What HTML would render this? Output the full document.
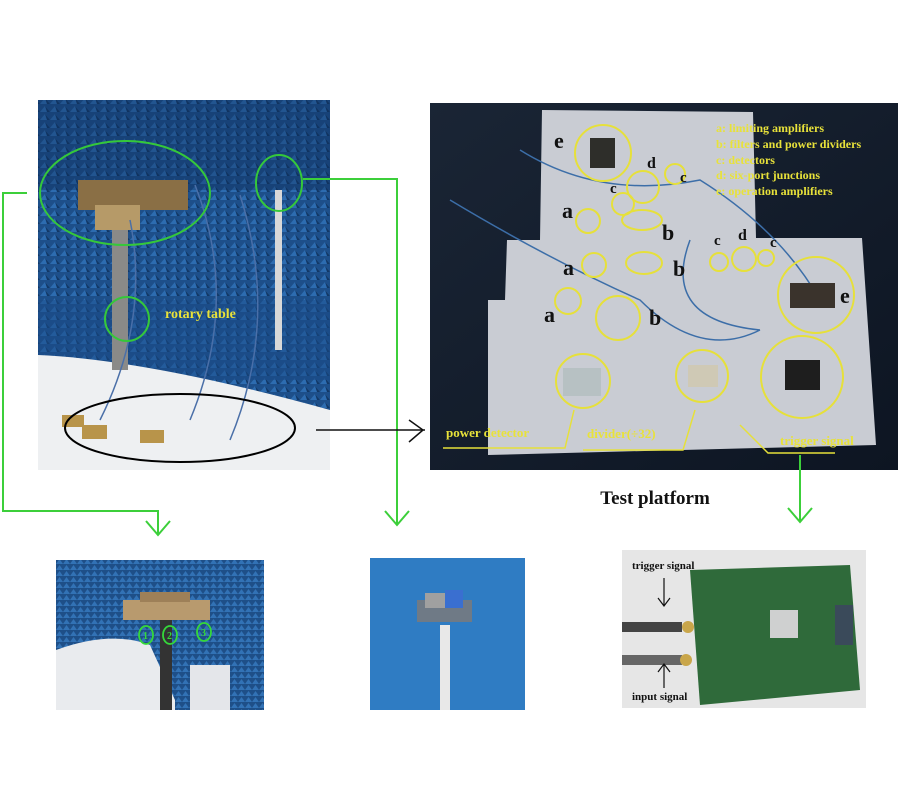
<!DOCTYPE html>
<html><head><meta charset="utf-8"><style>
html,body{margin:0;padding:0;background:#fff;}
svg{display:block;}
text{font-family:"Liberation Serif",serif;font-weight:bold;}
</style></head><body>
<svg width="900" height="800" viewBox="0 0 900 800" xmlns="http://www.w3.org/2000/svg">
<defs>
<pattern id="pyr" width="10" height="8" patternUnits="userSpaceOnUse">
<rect width="10" height="8" fill="#1d4f8a"/>
<path d="M0 8 L5 2 L10 8 Z" fill="#2d6cb0"/>
<path d="M5 2 L10 8 L7 8 Z" fill="#123866"/>
</pattern>
<pattern id="pyr2" width="7" height="6" patternUnits="userSpaceOnUse">
<rect width="7" height="6" fill="#1e4f88"/>
<path d="M0 6 L3.5 1 L7 6 Z" fill="#3272b5"/>
</pattern>
<linearGradient id="dark" x1="0" y1="0" x2="1" y2="1">
<stop offset="0" stop-color="#1a2535"/><stop offset="1" stop-color="#0d1522"/>
</linearGradient>
</defs>

<!-- Left main photo -->
<rect x="38" y="100" width="292" height="370" fill="url(#pyr)"/>
<rect x="38" y="100" width="292" height="90" fill="#0f2c55" opacity="0.35"/>
<rect x="38" y="300" width="292" height="80" fill="#1a4a86" opacity="0.5"/>
<path d="M38 355 Q150 360 330 410 L330 470 L38 470 Z" fill="#eef0f2"/>
<rect x="112" y="230" width="16" height="140" fill="#8a8a88"/>
<rect x="275" y="190" width="7" height="160" fill="#d8d8d8"/>
<rect x="78" y="180" width="110" height="30" fill="#8a6f45"/>
<rect x="95" y="205" width="45" height="25" fill="#b69a68"/>
<rect x="78" y="580" width="0" height="0"/>
<path d="M130 220 Q150 320 100 420 M195 185 Q240 300 190 420 M240 195 Q280 320 230 440" stroke="#4a6fa8" stroke-width="1.5" fill="none"/>
<rect x="62" y="415" width="22" height="12" fill="#b8944a"/>
<rect x="82" y="425" width="25" height="14" fill="#b8944a"/>
<rect x="140" y="430" width="24" height="13" fill="#b8944a"/>
<ellipse cx="125" cy="193" rx="85" ry="52" fill="none" stroke="#35c83a" stroke-width="2"/>
<ellipse cx="279" cy="183" rx="23" ry="28" fill="none" stroke="#35c83a" stroke-width="2"/>
<circle cx="127" cy="319" r="22" fill="none" stroke="#35c83a" stroke-width="2"/>
<text x="165" y="318" font-size="14" fill="#e8e23a">rotary table</text>
<ellipse cx="180" cy="428" rx="115" ry="34" fill="none" stroke="#000" stroke-width="2"/>

<!-- Right main photo -->
<rect x="430" y="103" width="468" height="367" fill="url(#dark)"/>
<path d="M542 110 L753 112 L756 238 L862 238 L876 445 L488 455 L488 300 L505 300 L507 240 L540 240 Z" fill="#c9ccd3"/>
<path d="M520 150 Q600 200 700 180 Q780 230 820 300 M450 200 Q550 260 640 300 Q700 360 760 330 M690 240 Q660 320 760 330" stroke="#3c6ea8" stroke-width="1.5" fill="none"/>
<g fill="none" stroke="#e6e03a" stroke-width="2">
<circle cx="603" cy="153" r="28"/>
<circle cx="643" cy="187" r="16"/>
<circle cx="675" cy="174" r="10"/>
<circle cx="623" cy="204" r="11"/>
<circle cx="588" cy="221" r="12"/>
<ellipse cx="642" cy="220" rx="20" ry="10"/>
<circle cx="594" cy="265" r="12"/>
<ellipse cx="644" cy="263" rx="18" ry="11"/>
<circle cx="719" cy="262" r="9"/>
<circle cx="744" cy="259" r="12"/>
<circle cx="766" cy="258" r="8"/>
<circle cx="816" cy="295" r="38"/>
<circle cx="568" cy="301" r="13"/>
<circle cx="618" cy="318" r="22"/>
<circle cx="583" cy="381" r="27"/>
<circle cx="702" cy="376" r="26"/>
<circle cx="802" cy="377" r="41"/>
</g>
<rect x="590" y="138" width="25" height="30" fill="#2e2e2a"/>
<rect x="790" y="283" width="45" height="25" fill="#3a332c"/>
<rect x="785" y="360" width="35" height="30" fill="#1e1e1e"/>
<rect x="563" y="368" width="38" height="28" fill="#b7c1c3"/>
<rect x="688" y="365" width="30" height="22" fill="#cfc9b5"/>
<g fill="#111" font-size="22">
<text x="554" y="148">e</text><text x="562" y="218">a</text><text x="563" y="275">a</text><text x="544" y="322">a</text>
<text x="662" y="240">b</text><text x="673" y="276">b</text><text x="649" y="325">b</text><text x="840" y="303">e</text>
<text x="647" y="168" font-size="16">d</text><text x="738" y="240" font-size="16">d</text>
<text x="610" y="193" font-size="15">c</text><text x="680" y="182" font-size="15">c</text>
<text x="714" y="245" font-size="15">c</text><text x="770" y="247" font-size="15">c</text>
</g>
<g fill="#e8e23a" font-size="12">
<text x="716" y="132">a: limiting amplifiers</text>
<text x="716" y="148">b: filters and power dividers</text>
<text x="716" y="164">c: detectors</text>
<text x="716" y="179">d: six-port junctions</text>
<text x="716" y="195">e: operation amplifiers</text>
<text x="446" y="437" font-size="13">power detector</text>
<text x="587" y="438" font-size="13">divider(÷32)</text>
<text x="780" y="445" font-size="13">trigger signal</text>
</g>
<g fill="none" stroke="#e6e03a" stroke-width="1.5">
<path d="M443 448 L565 448 L574 410"/>
<path d="M583 450 L683 450 L695 410"/>
<path d="M835 453 L768 453 L740 425"/>
</g>
<text x="655" y="504" font-size="19" fill="#111" text-anchor="middle">Test platform</text>

<!-- connectors -->
<g fill="none" stroke="#3ccf3a" stroke-width="2">
<path d="M27 193 L3 193 L3 511 L158 511 L158 535"/>
<path d="M146 521 L158 535 L170 521"/>
<path d="M303 179 L397 179 L397 525"/>
<path d="M385 511 L397 525 L409 511"/>
<path d="M800 455 L800 522"/>
<path d="M788 508 L800 522 L812 508"/>
</g>
<g fill="none" stroke="#111" stroke-width="1.5">
<path d="M316 430 L425 430"/>
<path d="M409 420 L423 430 L409 442"/>
</g>

<!-- bottom left photo -->
<rect x="56" y="560" width="208" height="150" fill="url(#pyr2)"/>
<path d="M56 650 Q110 630 150 645 L175 700 L175 710 L56 710 Z" fill="#e9ebee"/>
<rect x="190" y="665" width="40" height="45" fill="#e4e6ea"/>
<rect x="160" y="620" width="12" height="90" fill="#333"/>
<rect x="123" y="600" width="87" height="20" fill="#b89a6e"/>
<rect x="140" y="592" width="50" height="10" fill="#9e8058"/>
<g fill="none" stroke="#35d83a" stroke-width="1.8"><ellipse cx="146" cy="635" rx="7" ry="9"/><ellipse cx="170" cy="635" rx="7" ry="9"/><ellipse cx="204" cy="632" rx="7" ry="9"/></g>
<g fill="#35d83a" font-size="10" font-family="Liberation Sans,sans-serif"><text x="143" y="639">1</text><text x="167" y="639">2</text><text x="201" y="636">3</text></g>

<!-- bottom middle photo -->
<rect x="370" y="558" width="155" height="152" fill="#2f7cc3"/>
<rect x="417" y="600" width="55" height="22" fill="#6f7a86"/>
<rect x="425" y="593" width="25" height="15" fill="#a0a0a0"/>
<rect x="445" y="590" width="18" height="18" fill="#3a6fd0"/>
<rect x="440" y="625" width="10" height="85" fill="#e8e8e8"/>

<!-- bottom right photo -->
<rect x="622" y="550" width="244" height="158" fill="#e6e6e6"/>
<path d="M690 570 L850 565 L860 690 L700 705 Z" fill="#2f6a3a"/>
<rect x="770" y="610" width="28" height="28" fill="#cfd0d0"/>
<rect x="835" y="605" width="18" height="40" fill="#3a4a5a"/>
<rect x="622" y="622" width="60" height="10" fill="#444"/>
<rect x="622" y="655" width="60" height="10" fill="#666"/>
<circle cx="688" cy="627" r="6" fill="#c9a64a"/><circle cx="686" cy="660" r="6" fill="#c9a64a"/>
<g fill="#111" font-size="11"><text x="632" y="569">trigger signal</text><text x="632" y="700">input signal</text></g>
<g fill="none" stroke="#111" stroke-width="1.2"><path d="M664 578 L664 605 M658 598 L664 606 L670 598"/><path d="M664 688 L664 664 M658 672 L664 664 L670 672"/></g>
</svg>
</body></html>
